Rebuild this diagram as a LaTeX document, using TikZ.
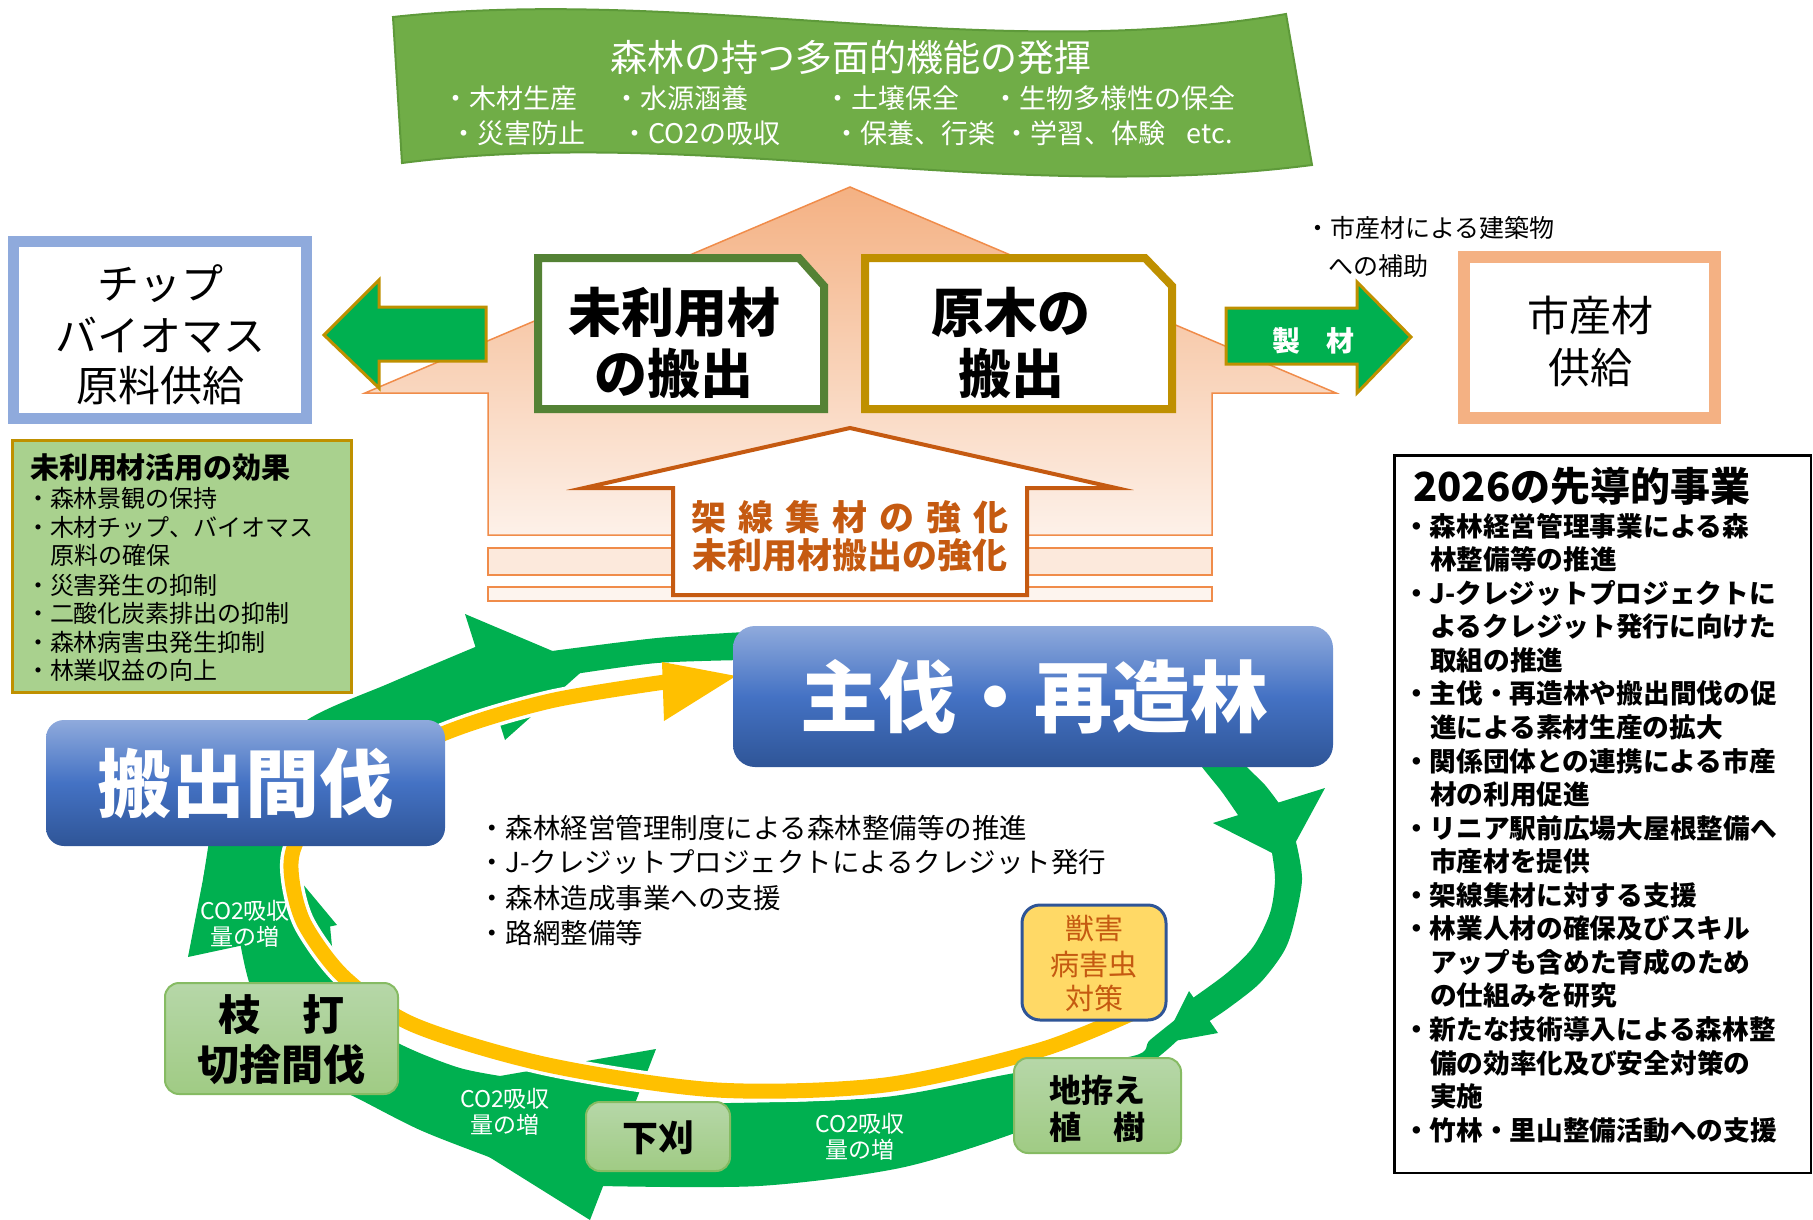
\documentclass[tikz,border=0pt]{standalone}
\usepackage{fontspec}
\setmainfont{Noto Sans CJK JP}
\definecolor{banG}{HTML}{70AD47}
\definecolor{banB}{HTML}{5E9A3A}
\definecolor{ringG}{HTML}{00B050}
\definecolor{yel}{HTML}{FFC000}
\definecolor{gold}{HTML}{BF9000}
\definecolor{darkG}{HTML}{548235}
\definecolor{chipB}{HTML}{8FAADC}
\definecolor{peach}{HTML}{F4B183}
\definecolor{peachL}{HTML}{FDF1E9}
\definecolor{orLine}{HTML}{F08C4A}
\definecolor{brownO}{HTML}{C55A11}
\definecolor{effG}{HTML}{A9D18E}
\definecolor{blueT}{HTML}{8FAADC}
\definecolor{blueM}{HTML}{4472C4}
\definecolor{blueB}{HTML}{2F5597}
\definecolor{lgT}{HTML}{B6D7A8}
\definecolor{lgB}{HTML}{A0CB84}
\definecolor{lgLine}{HTML}{86BB63}
\definecolor{pestY}{HTML}{FFD966}
\newcommand\myfs[1]{\fontsize{#1}{#1}\selectfont}
\tikzset{
  txt/.style={inner sep=0pt, outer sep=0pt},
  bluebox/.style={rounded corners=18pt, top color=blueT, bottom color=blueB, middle color=blueM, inner sep=0pt},
  greenbox/.style={draw=lgLine, line width=2pt, rounded corners=14pt, top color=lgT, bottom color=lgB, inner sep=0pt},
  co2/.style={txt, anchor=base, font={\myfs{23}}, text=white},
}
\begin{document}
\begin{tikzpicture}[x=1pt,y=-1pt]
\useasboundingbox (0,0) rectangle (1813,1220);

% ---------- banner ----------
\path[fill=banG, draw=banB, line width=2pt] (393,17) .. controls (690,-15) and (990,65) .. (1286,14) -- (1312,165) .. controls (1000,205) and (700,125) .. (402,163) -- cycle;
\node[txt, anchor=base, font={\myfs{37}}, text=white] (bt) at (851,72) {森林の持つ多面的機能の発揮};
\node[txt, anchor=base west, font={\myfs{27}}, text=white] (b1) at (442,109) {・木材生産};
\node[txt, anchor=base west, font={\myfs{27}}, text=white] (b2) at (613,109) {・水源涵養};
\node[txt, anchor=base west, font={\myfs{27}}, text=white] (b3) at (824,109) {・土壌保全};
\node[txt, anchor=base west, font={\myfs{27}}, text=white] (b4) at (992,109) {・生物多様性の保全};
\node[txt, anchor=base west, font={\myfs{27}}, text=white] (b5) at (450,144) {・災害防止};
\node[txt, anchor=base west, font={\myfs{27}}, text=white] (b6) at (621,144) {・CO2の吸収};
\node[txt, anchor=base west, font={\myfs{27}}, text=white] (b7) at (833,144) {・保養、行楽};
\node[txt, anchor=base west, font={\myfs{27}}, text=white] (b8) at (1003,144) {・学習、体験\hspace{22pt}etc.};

% ---------- house arrow ----------
\path[draw=orLine, line width=1.5pt, top color=peach, bottom color=peachL] (850,187) -- (1336,393) -- (1212,393) -- (1212,535) -- (488,535) -- (488,393) -- (365,393) -- cycle;
\path[draw=orLine, line width=1.5pt, fill=peach!28] (488,548) rectangle (1212,575);
\path[draw=orLine, line width=1.5pt, fill=peach!14] (488,587) rectangle (1212,601);

% side arrows
\path[fill=ringG, draw=gold, line width=3pt] (324,335) -- (379,280) -- (379,307) -- (486,307) -- (486,361) -- (379,361) -- (379,388) -- cycle;
\path[fill=ringG, draw=gold, line width=3pt] (1226,308) -- (1357,308) -- (1357,282) -- (1411,337) -- (1357,393) -- (1357,364) -- (1226,364) -- cycle;
\node[txt, anchor=base, font={\myfs{28}\bfseries}, text=white] (sei) at (1286,351) {製};
\node[txt, anchor=base, font={\myfs{28}\bfseries}, text=white] (zai) at (1340,351) {材};

% snip boxes
\path[draw=darkG, line width=8pt, fill=white] (538,258) -- (799,258) -- (824,286) -- (824,409) -- (538,409) -- cycle;
\path[draw=gold, line width=8pt, fill=white] (865,258) -- (1145,258) -- (1172,286) -- (1172,409) -- (865,409) -- cycle;
\node[txt, anchor=base, font={\myfs{53}\bfseries}] (mr1) at (674,332) {未利用材};
\node[txt, anchor=base, font={\myfs{53}\bfseries}] (mr2) at (674,393) {の搬出};
\node[txt, anchor=base, font={\myfs{53}\bfseries}] (gb1) at (1011,332) {原木の};
\node[txt, anchor=base, font={\myfs{53}\bfseries}] (gb2) at (1011,393) {搬出};

% inner arrow
\path[draw=brownO, line width=4pt, fill=white] (850,428) -- (1116,488) -- (1027,488) -- (1027,595) -- (673,595) -- (673,488) -- (584,488) -- cycle;
\node[txt, anchor=base, font={\myfs{35}\bfseries}, text=brownO] (ia1) at (850,530) {\hbox to 318pt{架\hfil 線\hfil 集\hfil 材\hfil の\hfil 強\hfil 化}};
\node[txt, anchor=base, font={\myfs{35}\bfseries}, text=brownO] (ia2) at (850,568) {未利用材搬出の強化};

% chip box
\node[draw=chipB, line width=11pt, fill=white, minimum width=293pt, minimum height=177pt, inner sep=0pt] (chip) at (160,330) {};
\node[txt, anchor=base, font={\myfs{42}}] (c1) at (160,299) {チップ};
\node[txt, anchor=base, font={\myfs{42}}] (c2) at (160,351) {バイオマス};
\node[txt, anchor=base, font={\myfs{42}}] (c3) at (160,401) {原料供給};

% city wood box
\node[draw=peach, line width=12pt, fill=white, minimum width=251pt, minimum height=161pt, inner sep=0pt] (city) at (1589.5,337.5) {};
\node[txt, anchor=base, font={\myfs{42}}] (s1) at (1590,331) {市産材};
\node[txt, anchor=base, font={\myfs{42}}] (s2) at (1590,383) {供給};
\node[txt, anchor=base west, font={\myfs{25}}] (h1) at (1305,237) {・市産材による建築物};
\node[txt, anchor=base west, font={\myfs{25}}] (h2) at (1328,275) {への補助};

% effects box
\node[draw=gold, line width=3pt, fill=effG, minimum width=339pt, minimum height=252pt, inner sep=0pt] (eff) at (182,566.5) {};
\node[txt, anchor=base west, font={\myfs{29}\bfseries}] (et) at (30,478) {未利用材活用の効果};
\foreach \xx/\yy/\lt [count=\i] in {26/507/・森林景観の保持, 26/536/・木材チップ、バイオマス, 50/564/原料の確保, 26/594/・災害発生の抑制, 26/622/・二酸化炭素排出の抑制, 26/651/・森林病害虫発生抑制, 26/679/・林業収益の向上}{
  \node[txt, anchor=base west, font={\myfs{24}}] (e\i) at (\xx,\yy) {\lt};
}

% ---------- green ring ----------
\fill[ringG] plot[smooth] coordinates {(250,775) (307,720) (390,683) (480,645)} -- plot[smooth] coordinates {(502,712) (445,722) (400,740) (330,790)} -- cycle;
\fill[ringG] (465,614) -- (588,666) -- (505,740) -- cycle;
\fill[ringG] plot[smooth] coordinates {(552,651) (657,638) (745,632)} -- plot[smooth] coordinates {(745,660) (657,663) (575,674)} -- cycle;
\fill[ringG] plot[smooth] coordinates {(1195,755) (1202,767) (1222,792) (1240,818)} -- plot[smooth] coordinates {(1281,806) (1265,785) (1247,767) (1240,755)} -- cycle;
\fill[ringG] (1213,823) -- (1325,788) -- (1286,860) -- cycle;
\fill[ringG] plot[smooth] coordinates {(1296,842) (1302,880) (1293,927) (1283,953) (1260,983) (1230,1007) (1205,1024)} -- plot[smooth] coordinates {(1190,1000) (1227,973) (1253,947) (1270,913) (1275,880) (1272,853)} -- cycle;
\fill[ringG] (1189,991) -- (1218,1033) -- (1163,1043) -- cycle;
\fill[ringG] plot[smooth] coordinates {(1180,1016) (1150,1040) (1133,1056) (1015,1073) (885,1097) (730,1103) (620,1102)} -- plot[smooth] coordinates {(600,1186) (759,1186) (900,1168) (1015,1133) (1080,1103) (1150,1063) (1182,1036)} -- cycle;
\fill[ringG] (656,1049) -- (590,1220) -- (390,1095) -- cycle;
\fill[ringG] plot[smooth] coordinates {(520,1079) (460,1068) (398,1043) (360,1015) (338,985) (330,925)} -- plot[smooth] coordinates {(240,942) (250,985) (275,1040) (320,1080) (357,1098) (420,1130) (489,1157) (525,1170)} -- cycle;
\fill[ringG] (188,957) -- (337,925) -- (221,786) -- cycle;
\fill[ringG] (203,880) -- (210,835) -- (290,835) -- (298,878) -- cycle;

% ---------- yellow ring ----------
\draw[white, line width=22pt] plot[smooth] coordinates {(1135,1012) (1040,1050) (885,1085) (717,1090) (548,1065) (414,1025) (345,978) (305,925) (292,880) (295,845) (330,790) (445,733) (550,701) (655,684)};
\draw[yel, line width=15pt] plot[smooth] coordinates {(1135,1012) (1040,1050) (885,1085) (717,1090) (548,1065) (414,1025) (345,978) (305,925) (292,880) (295,845) (330,790) (445,733) (550,701) (665,682)};
\fill[yel] (662,662) -- (736,676) -- (664,721) -- cycle;

% ---------- cycle boxes ----------
\node[bluebox, minimum width=399pt, minimum height=126pt] (hanshutsu) at (245.5,783) {};
\node[txt, anchor=base, font={\myfs{74}\bfseries}, text=white] (hst) at (245,811) {搬出間伐};
\node[bluebox, rounded corners=22pt, minimum width=600pt, minimum height=141pt] (shubatsu) at (1033,696.5) {};
\node[txt, anchor=base, font={\myfs{78}\bfseries}, text=white] (sbt) at (1034,726) {主伐・再造林};

\node[draw=blueB, line width=3pt, fill=pestY, rounded corners=18pt, minimum width=144pt, minimum height=115pt, inner sep=0pt] (pest) at (1094,962.5) {};
\node[txt, anchor=base, font={\myfs{29}}, text=brownO] (p1) at (1094,939) {獣害};
\node[txt, anchor=base, font={\myfs{29}}, text=brownO] (p2) at (1094,975) {病害虫};
\node[txt, anchor=base, font={\myfs{29}}, text=brownO] (p3) at (1094,1009) {対策};

\node[greenbox, minimum width=233pt, minimum height=111pt] (eda) at (281.5,1038.5) {};
\node[txt, anchor=base, font={\myfs{42}\bfseries}] (ed1) at (281,1030) {枝　打};
\node[txt, anchor=base, font={\myfs{42}\bfseries}] (ed2) at (281,1080) {切捨間伐};

\node[greenbox, minimum width=144pt, minimum height=69pt] (shita) at (658,1136.5) {};
\node[txt, anchor=base, font={\myfs{36}\bfseries}] (st) at (658,1151) {下刈};

\node[greenbox, minimum width=167pt, minimum height=95pt] (ji) at (1097.5,1105.5) {};
\node[txt, anchor=base, font={\myfs{32}\bfseries}] (j1) at (1097,1102) {地拵え};
\node[txt, anchor=base, font={\myfs{32}\bfseries}] (j2) at (1097,1139) {植　樹};

% CO2 labels
\node[co2] (co2a) at (245,919) {CO2吸収};
\node[co2] (co2b) at (245,945) {量の増};
\node[co2] (co2c) at (505,1107) {CO2吸収};
\node[co2] (co2d) at (505,1133) {量の増};
\node[co2] (co2e) at (860,1132) {CO2吸収};
\node[co2] (co2f) at (860,1158) {量の増};

% middle text
\node[txt, anchor=base west, font={\myfs{27.5}}] (m1) at (478,838) {・森林経営管理制度による森林整備等の推進};
\node[txt, anchor=base west, font={\myfs{27.5}}] (m2) at (478,872) {・J-クレジットプロジェクトによるクレジット発行};
\node[txt, anchor=base west, font={\myfs{27.5}}] (m3) at (478,908) {・森林造成事業への支援};
\node[txt, anchor=base west, font={\myfs{27.5}}] (m4) at (478,943) {・路網整備等};

% ---------- right panel ----------
\node[draw=black, line width=2.5pt, fill=white, minimum width=416.5pt, minimum height=717.5pt, inner sep=0pt] (panel) at (1602.5,814) {};
\node[txt, anchor=base west, font={\myfs{40}\bfseries}] (pt) at (1413,501) {2026の先導的事業};
\foreach \xx/\lt [count=\i from 0] in {1403/・森林経営管理事業による森, 1430/林整備等の推進, 1403/・J-クレジットプロジェクトに, 1430/よるクレジット発行に向けた, 1430/取組の推進, 1403/・主伐・再造林や搬出間伐の促, 1430/進による素材生産の拡大, 1403/・関係団体との連携による市産, 1430/材の利用促進, 1403/・リニア駅前広場大屋根整備へ, 1430/市産材を提供, 1403/・架線集材に対する支援, 1403/・林業人材の確保及びスキル, 1430/アップも含めた育成のため, 1430/の仕組みを研究, 1403/・新たな技術導入による森林整, 1430/備の効率化及び安全対策の, 1430/実施, 1403/・竹林・里山整備活動への支援}{
  \pgfmathsetmacro\yy{536.1+33.56*\i}
  \node[txt, anchor=base west, font={\myfs{26.7}\bfseries}] (rp\i) at (\xx,\yy) {\lt};
}
\end{tikzpicture}
\end{document}
